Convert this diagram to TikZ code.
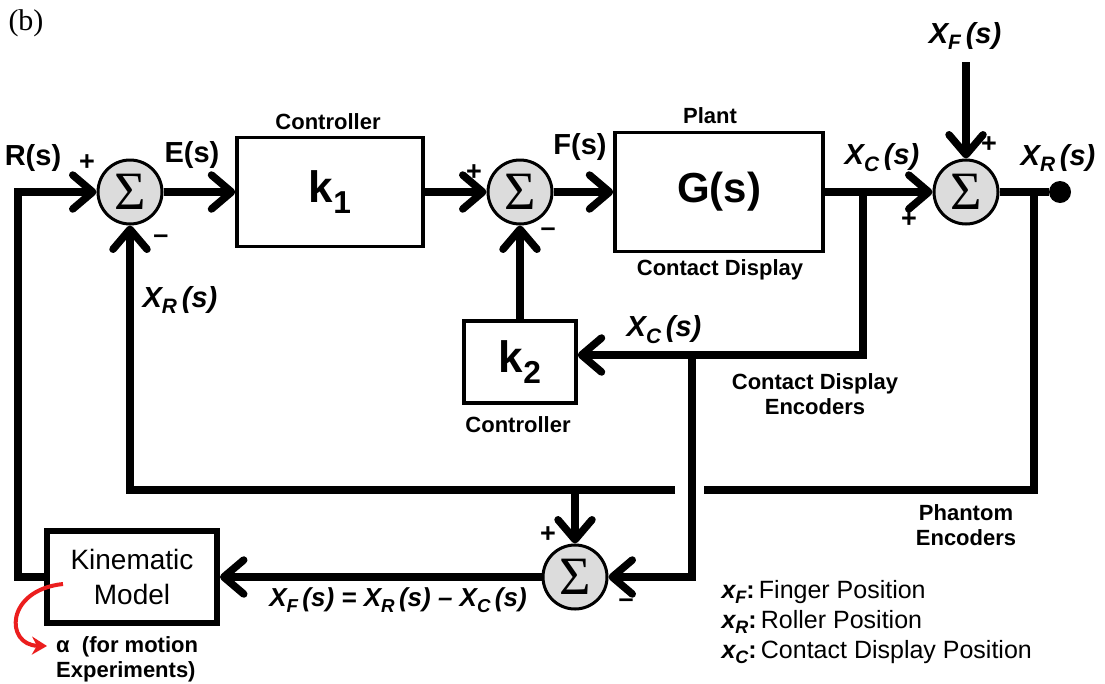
\documentclass[tikz,border=0pt]{standalone}
\usepackage{fontspec}
\setmainfont{Liberation Sans}
\newfontfamily\serifface{Liberation Serif}
\usetikzlibrary{positioning,arrows.meta,calc}
\definecolor{sumgray}{RGB}{220,220,220}
\definecolor{alphared}{RGB}{235,30,30}

\newcommand{\fsz}[2]{\fontsize{#1}{#2}\selectfont}
\newcommand{\subv}[1]{\raisebox{-0.45ex}{\scalebox{0.72}{#1}}}
\newcommand{\sigv}[2]{\textbf{\textit{#1\subv{#2}\,(s)}}}

\tikzset{
  wire/.style={line width=7.5pt},
  sig/.style={wire, -{Straight Barb[length=20pt,width=34pt,round]}},
  sumnode/.style={circle, draw, line width=3pt, fill=sumgray, minimum size=64pt,
    inner sep=0pt, font=\serifface\fsz{54}{54}},
  blockbox/.style={draw, line width=3.5pt, inner sep=0pt},
  tag/.style={font=\bfseries\fsz{22}{25}, align=center, inner sep=1pt},
  siglbl/.style={font=\bfseries\fsz{29}{29}, inner sep=1pt},
  signmark/.style={font=\bfseries\fsz{27}{27}, inner sep=0pt}
}

\begin{document}
\begin{tikzpicture}[x=1pt, y=-1pt]
  \useasboundingbox (0,0) rectangle (1105,683);

  % summing junctions and blocks
  \node[sumnode] (s1) at (130,192) {Σ};
  \node[sumnode] (s2) at (520,192) {Σ};
  \node[sumnode] (s3) at (966,192) {Σ};
  \node[sumnode] (s4) at (575,577) {Σ};

  \node[blockbox, minimum width=186pt, minimum height=109pt,
        font=\bfseries\fsz{44}{44}] (k1) at (330,192) {k\subv{1}};
  \node[blockbox, minimum width=208pt, minimum height=119pt,
        font=\bfseries\fsz{42}{42}] (G) at (719,192) {G(s)};
  \node[blockbox, minimum width=112pt, minimum height=82pt,
        font=\bfseries\fsz{44}{44}] (k2) at (520,362) {k\subv{2}};
  \node[blockbox, line width=6pt, minimum width=170pt, minimum height=92pt,
        align=center, font=\fsz{28}{35}] (km) at (132,577) {Kinematic\\Model};

  \node[circle, fill, minimum size=22pt, inner sep=0pt] (xrdot) at (1060,192) {};

  % tap points and free ends
  \coordinate (rin) at (18,192);
  \coordinate (xfin) at (966,62);
  \coordinate (xctap) at (863,192);
  \coordinate (xrtap) at (1034,192);
  \coordinate (hopR) at (704,490);
  \coordinate (hopL) at (675,490);
  \coordinate (s4tap) at (575,490);
  \coordinate (k2tap) at (692,355);
  \coordinate (astart) at (63,584);
  \coordinate (aend) at (47,646);

  % forward path
  \draw[sig] (s1.east) -- (k1.west);
  \draw[sig] (k1.east) -- (s2.west);
  \draw[sig] (s2.east) -- (G.west);
  \draw[sig] (G.east) -- (s3.west);
  \draw[sig] (xfin) -- (s3.north);
  \draw[wire] (s3.east) -- (xrdot);

  % feedback paths
  \draw[wire] (xrtap) |- (hopR);
  \draw[sig] (hopL) -| (s1.south);
  \draw[sig] (s4tap) -- (s4.north);
  \draw[sig] (xctap) |- ([yshift=7pt]k2.east);
  \draw[sig] (k2tap) |- (s4.east);
  \draw[sig] (k2.north) -- (s2.south);
  \draw[sig] (s4.west) -- (km.east);
  \draw[sig] (km.west) -| (rin) -- (s1.west);

  \draw[alphared, line width=4pt, -{Stealth[length=15pt,width=18pt]}]
    (astart) .. controls (5,590) and (5,645) .. (aend);

  % labels
  \node[font=\serifface\fsz{30}{30}] (fig) at (26,23) {(b)};
  \node[siglbl] (rlbl) at (33,158) {R(s)};
  \node[siglbl] (elbl) at (192,155) {E(s)};
  \node[siglbl] (flbl) at (580,147) {F(s)};
  \node[siglbl] (xclbl) at (882,158) {\sigv{X}{C}};
  \node[siglbl] (xflbl) at (965,36) {\sigv{X}{F}};
  \node[siglbl] (xrlbl) at (1058,158) {\sigv{X}{R}};
  \node[siglbl] (xrfb) at (180,300) {\sigv{X}{R}};
  \node[siglbl] (xcfb) at (664,330) {\sigv{X}{C}};
  \node[siglbl, font=\bfseries\fsz{26}{26}] (eqlbl) at (398,600)
    {\textbf{\textit{X\subv{F}\,(s) = X\subv{R}\,(s) -- X\subv{C}\,(s)}}};

  \node[tag] (ctrl1) at (328,122) {Controller};
  \node[tag] (plant) at (710,116) {Plant};
  \node[tag] (cdisp) at (720,270) {Contact Display};
  \node[tag] (ctrl2) at (518,425) {Controller};
  \node[tag] (cdenc) at (815,394) {Contact Display\\Encoders};
  \node[tag] (phenc) at (966,525) {Phantom\\Encoders};
  \node[tag, anchor=north west, align=left] (alpha) at (55,635)
    {α\ \ (for motion\\Experiments)};

  \node[signmark] (p1) at (87,163) {+};
  \node[signmark] (m1) at (161,239) {--};
  \node[signmark] (p2) at (474,173) {+};
  \node[signmark] (m2) at (548,232) {--};
  \node[signmark] (p3a) at (989,145) {+};
  \node[signmark] (p3b) at (909,220) {+};
  \node[signmark] (p4) at (548,535) {+};
  \node[signmark] (m4) at (626,603) {--};

  \node[anchor=west, align=left, font=\fsz{25}{30}] (legend) at (718,622)
    {\textbf{\textit{x\subv{F}}:}\,Finger Position\\
     \textbf{\textit{x\subv{R}}:}\,Roller Position\\
     \textbf{\textit{x\subv{C}}:}\,Contact Display Position};
\end{tikzpicture}
\end{document}
